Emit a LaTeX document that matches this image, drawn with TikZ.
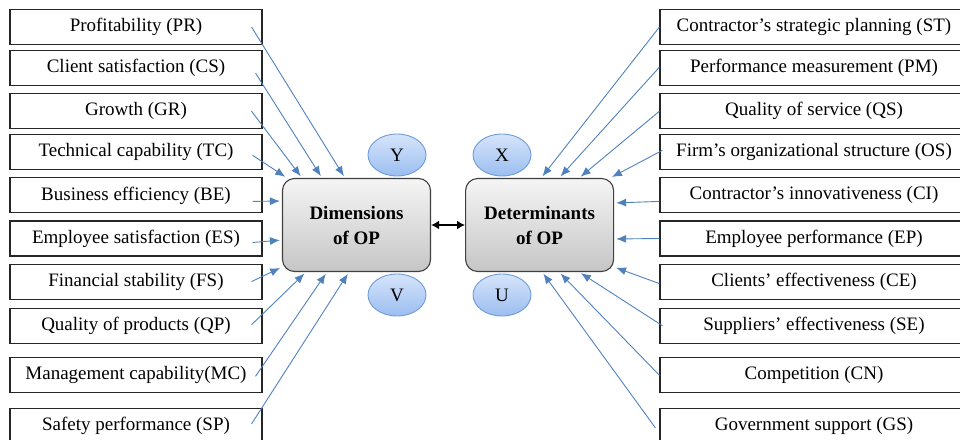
\documentclass[tikz,border=0pt]{standalone}
\usepackage{fontspec}
\setmainfont{Liberation Serif}
\usetikzlibrary{arrows.meta, positioning, shapes.geometric}
\definecolor{opblue}{RGB}{79,129,189}
\definecolor{ovalfill}{RGB}{214,228,250}
\definecolor{ovaldark}{RGB}{155,190,240}
\definecolor{ovalline}{RGB}{110,155,215}

\begin{document}
\begin{tikzpicture}[
  x=1pt, y=-1pt,
  item/.style={
    rectangle, draw=black!85, line width=1.1pt,
    minimum width=252pt, minimum height=35pt, inner sep=0pt,
    font=\fontsize{19}{22}\selectfont, text centered
  },
  factor/.style={item, minimum width=308pt},
  core/.style={
    rectangle, rounded corners=12pt, draw=black!75, line width=1.1pt,
    top color=gray!8, bottom color=gray!45,
    minimum width=148pt, minimum height=93pt,
    font=\fontsize{19}{25}\selectfont\bfseries, align=center
  },
  oval/.style={
    ellipse, draw=ovalline, line width=0.9pt,
    top color=ovalfill, bottom color=ovaldark,
    minimum width=58pt, minimum height=42pt, inner sep=0pt,
    font=\fontsize{19}{22}\selectfont
  },
  feed/.style={draw=opblue, line width=0.9pt, shorten >=2pt,
    -{Latex[length=10pt,width=8pt]}},
  link/.style={line width=2.2pt, {Latex[length=8pt,width=9pt]}-{Latex[length=8pt,width=9pt]}}
]
  \useasboundingbox (0,0) rectangle (960,439);

  % Latent variables (behind the central boxes)
  \node[oval] (y) at (397,155) {Y};
  \node[oval] (v) at (397,295) {V};
  \node[oval] (x) at (502,155) {X};
  \node[oval] (u) at (502,295) {U};

  % Central constructs
  \node[core] (dim) at (356.5,225) {Dimensions\\of OP};
  \node[core, right=34pt of dim] (det) {Determinants\\of OP};
  \draw[link] (dim.east) -- (dim.east -| det.west);

  % Dimensions, top-down
  \node[item] (pr) at (136,27) {Profitability (PR)};
  \node[item, below=5pt of pr]    (cs) {Client satisfaction (CS)};
  \node[item, below=7pt of cs]    (gr) {Growth (GR)};
  \node[item, below=5pt of gr]    (tc) {Technical capability (TC)};
  \node[item, below=7pt of tc]    (be) {Business efficiency (BE)};
  \node[item, below=7pt of be]    (es) {Employee satisfaction (ES)};
  \node[item, below=7pt of es]    (fs) {Financial stability (FS)};
  \node[item, below=8pt of fs]    (qp) {Quality of products (QP)};
  \node[item, below=13.5pt of qp] (mc) {Management capability(MC)};
  \node[item, below=14.5pt of mc] (sp) {Safety performance (SP)};

  % Determinants, top-down
  \node[factor] (st) at (814,27) {Contractor’s strategic planning (ST)};
  \node[factor, below=5pt of st]    (pm) {Performance measurement (PM)};
  \node[factor, below=7pt of pm]    (qs) {Quality of service (QS)};
  \node[factor, below=5pt of qs]    (os) {Firm’s organizational structure (OS)};
  \node[factor, below=7pt of os]    (ci) {Contractor’s innovativeness (CI)};
  \node[factor, below=7pt of ci]    (ep) {Employee performance (EP)};
  \node[factor, below=7pt of ep]    (ce) {Clients’ effectiveness (CE)};
  \node[factor, below=8pt of ce]    (se) {Suppliers’ effectiveness (SE)};
  \node[factor, below=13.5pt of se] (cn) {Competition (CN)};
  \node[factor, below=14.5pt of cn] (gs) {Government support (GS)};

  % Arrows into Dimensions of OP
  \draw[feed] ([xshift=-11pt]pr.east) -- ([xshift=63pt]dim.north west);
  \draw[feed] ([xshift=-7pt,yshift=-5pt]cs.east) -- ([xshift=40pt]dim.north west);
  \draw[feed] ([xshift=-11pt]gr.east) -- ([xshift=20pt]dim.north west);
  \draw[feed] ([xshift=-10pt,yshift=-3pt]tc.east) -- ([xshift=5pt]dim.north west);
  \draw[feed] ([xshift=-10pt,yshift=-6pt]be.east) -- ([yshift=24pt]dim.west);
  \draw[feed] ([xshift=-10pt,yshift=-4pt]es.east) -- ([yshift=-15pt]dim.west);
  \draw[feed] ([xshift=-11pt]fs.east) -- ([yshift=5pt]dim.south west);
  \draw[feed] ([xshift=-11pt,yshift=1pt]qp.east) -- ([xshift=24pt]dim.south west);
  \draw[feed] ([xshift=-7pt,yshift=-1pt]mc.east) -- ([xshift=45pt]dim.south west);
  \draw[feed] ([xshift=-11pt,yshift=2pt]sp.east) -- ([xshift=67pt]dim.south west);

  % Arrows into Determinants of OP
  \draw[feed] (st.west) -- ([xshift=-73pt]det.north east);
  \draw[feed] ([yshift=1pt]pm.west) -- ([xshift=-55pt]det.north east);
  \draw[feed] (qs.west) -- ([xshift=-35pt]det.north east);
  \draw[feed] ([xshift=3pt,yshift=2pt]os.west) -- ([xshift=-4pt]det.north east);
  \draw[feed] ([yshift=-6pt]ci.west) -- ([yshift=22pt]det.east);
  \draw[feed] (ep.west) -- ([yshift=-14pt]det.east);
  \draw[feed] ([yshift=-2pt]ce.west) -- ([yshift=5pt]det.south east);
  \draw[feed] ([xshift=3pt]se.west) -- ([xshift=-35pt]det.south east);
  \draw[feed] (cn.west) -- ([xshift=-55pt]det.south east);
  \draw[feed] ([xshift=-4pt,yshift=-2pt]gs.west) -- ([xshift=-72pt]det.south east);
\end{tikzpicture}
\end{document}
